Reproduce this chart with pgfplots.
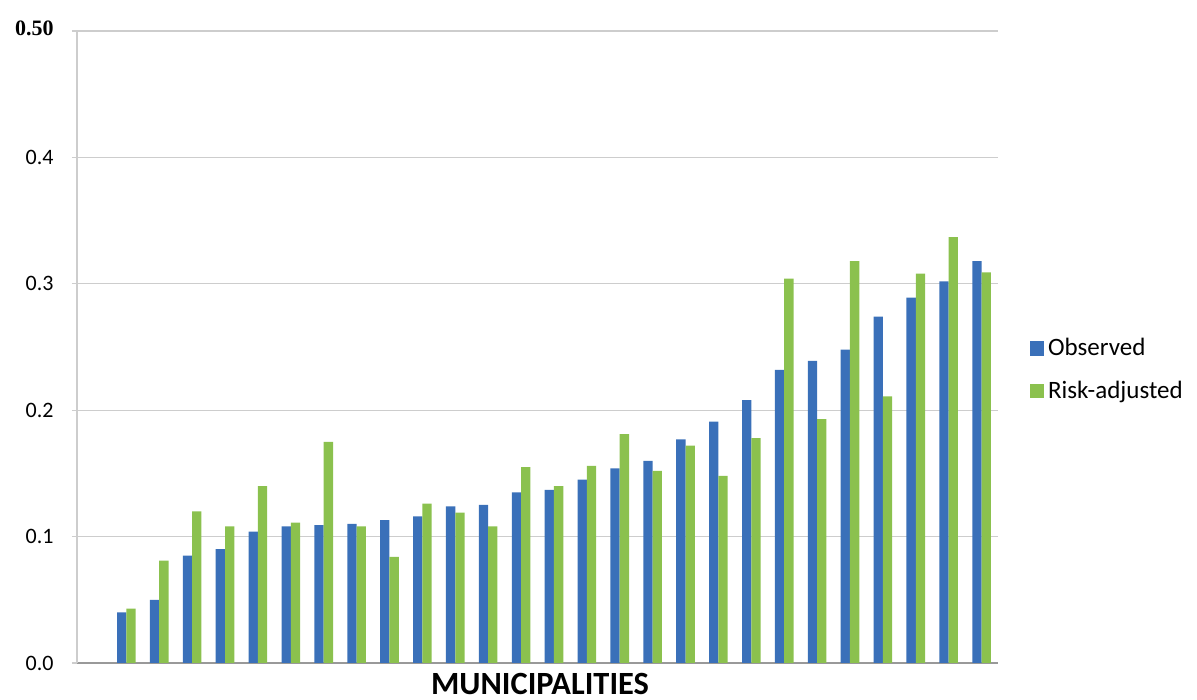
\documentclass[border=0pt]{standalone}
\usepackage{fontspec}
\setmainfont{Carlito}
\newfontfamily\serifbf{Liberation Serif}
\usepackage{pgfplots}
\pgfplotsset{compat=1.18}

\definecolor{obsblue}{RGB}{58,112,185}
\definecolor{riskgreen}{RGB}{139,193,78}
\definecolor{gridgray}{RGB}{205,205,205}

\pgfplotstableread{
x obs risk
1 0.040 0.043
2 0.050 0.081
3 0.085 0.120
4 0.090 0.108
5 0.104 0.140
6 0.108 0.111
7 0.109 0.175
8 0.110 0.108
9 0.113 0.084
10 0.116 0.126
11 0.124 0.119
12 0.125 0.108
13 0.135 0.155
14 0.137 0.140
15 0.145 0.156
16 0.154 0.181
17 0.160 0.152
18 0.177 0.172
19 0.191 0.148
20 0.208 0.178
21 0.232 0.304
22 0.239 0.193
23 0.248 0.318
24 0.274 0.211
25 0.289 0.308
26 0.302 0.337
27 0.318 0.309
}\munidata

\begin{document}
\begin{tikzpicture}
\path[use as bounding box] (0,0) rectangle (598.5pt,350pt);
\begin{axis}[
    at={(38.5pt,18.5pt)},
    anchor=south west,
    scale only axis,
    width=460.5pt,
    height=316pt,
    ybar=0pt,
    bar width=4.65pt,
    xmin=-0.5, xmax=27.5,
    ymin=0, ymax=0.5,
    xtick=\empty,
    ytick={0,0.1,0.2,0.3,0.4,0.5},
    yticklabels={0.0,0.1,0.2,0.3,0.4,{\serifbf\bfseries\fontsize{11}{12}\selectfont\raisebox{2.5pt}{0.50}\hspace{2pt}}},
    yticklabel style={font=\fontsize{11}{13}\selectfont, anchor=east, inner sep=0pt, xshift=-9pt},
    /pgf/number format/assume math mode=true,
    tick align=outside,
    major tick length=2.5pt,
    tick style={draw=gridgray, line width=0.6pt},
    ymajorgrids,
    grid style={draw=gridgray, line width=0.6pt},
    axis x line*=bottom,
    axis y line*=left,
    x axis line style={draw=gray!80, line width=0.6pt},
    y axis line style={draw=gridgray, line width=0.6pt},
    xlabel={MUNICIPALITIES},
    xlabel style={at={(axis description cs:0.5,0)}, anchor=north, inner sep=0pt,
        yshift=-5pt, xshift=1.25pt, font=\bfseries\fontsize{16.2}{18}\selectfont},
    legend style={at={(1.034,0.464)}, anchor=west, draw=none, fill=none,
        font=\fontsize{12.5}{14}\selectfont, row sep=7pt, inner sep=0pt,
        cells={anchor=west}},
    legend image code/.code={\fill[#1,draw=none] (-2.5pt,-3.6pt) rectangle (4.7pt,3.6pt);},
]
\addplot[fill=obsblue, draw=none] table[x=x, y=obs] {\munidata};
\addplot[fill=riskgreen, draw=none] table[x=x, y=risk] {\munidata};
\legend{Observed, Risk-adjusted}
\end{axis}
\end{tikzpicture}
\end{document}
